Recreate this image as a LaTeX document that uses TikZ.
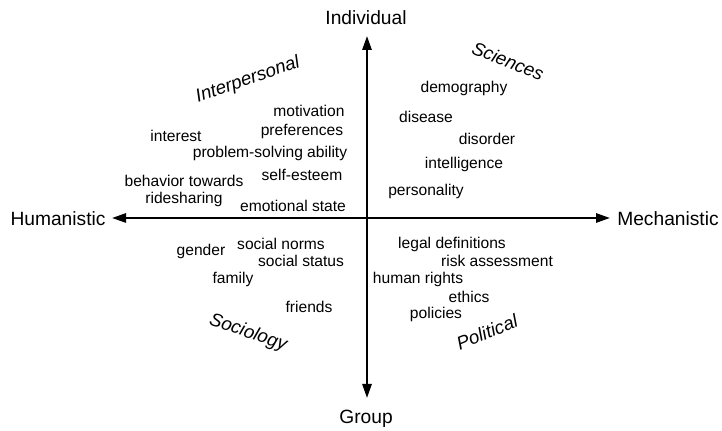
\documentclass[tikz,border=0pt]{standalone}
\usepackage{fontspec}
\setmainfont{Liberation Sans}
\usetikzlibrary{arrows.meta,positioning}

\begin{document}
\begin{tikzpicture}[x=0.5pt,y=-0.5pt,>={Triangle[length=7pt,width=4.6pt]},
     line width=1.1pt,
     axis/.style={font=\fontsize{9.6}{11}\selectfont, yshift=-0.75pt},
     topic/.style={font=\fontsize{7.8}{9}\selectfont, inner sep=0pt, yshift=-0.6pt},
     field/.style={font=\fontsize{9.3}{11}\selectfont\itshape, inner sep=0pt}]
    \useasboundingbox (0,0) rectangle (722,431);
    % axes
    \coordinate (west) at (112,218);
    \coordinate (east) at (610,218);
    \coordinate (north) at (367,36);
    \coordinate (south) at (367,398);
    \draw[<->] (west) -- (east);
    \draw[<->] (south) -- (north);
    \node[axis] (indiv) at (366,16) {Individual};
    \node[axis] (group) at (366,417) {Group};
    \node[axis] (human) at (58,217) {Humanistic};
    \node[axis] (mech) at (668,217) {Mechanistic};
    % fields
    \node[field, rotate=19] (inter) at (248,80) {Interpersonal};
    \node[field, rotate=-22] (sci) at (508,61) {Sciences};
    \node[field, rotate=-19] (soc) at (248,333) {Sociology};
    \node[field, rotate=22] (pol) at (487,332) {Political};
    % interpersonal
    \node[topic] (motiv) at (309,110) {motivation};
    \node[topic] (pref) at (302,130) {preferences};
    \node[topic] (interest) at (176,135) {interest};
    \node[topic] (problem) at (270,152) {problem-solving ability};
    \node[topic] (selfest) at (302,174) {self-esteem};
    \node[topic] (behav) at (184,180) {behavior towards};
    \node[topic] (rides) at (184,198) {ridesharing};
    \node[topic] (emot) at (293,205) {emotional state};
    % sciences
    \node[topic] (demog) at (464,87) {demography};
    \node[topic] (disease) at (426,116) {disease};
    \node[topic] (disord) at (487,138) {disorder};
    \node[topic] (intel) at (464,163) {intelligence};
    \node[topic] (person) at (426,190) {personality};
    % sociology
    \node[topic] (gender) at (201,250) {gender};
    \node[topic] (norms) at (281,243) {social norms};
    \node[topic] (status) at (301,260) {social status};
    \node[topic] (family) at (233,278) {family};
    \node[topic] (friends) at (309,306) {friends};
    % political
    \node[topic] (legal) at (452,243) {legal definitions};
    \node[topic] (risk) at (497,260) {risk assessment};
    \node[topic] (rights) at (418,278) {human rights};
    \node[topic] (ethics) at (469,296) {ethics};
    \node[topic] (policy) at (436,313) {policies};
\end{tikzpicture}
\end{document}
